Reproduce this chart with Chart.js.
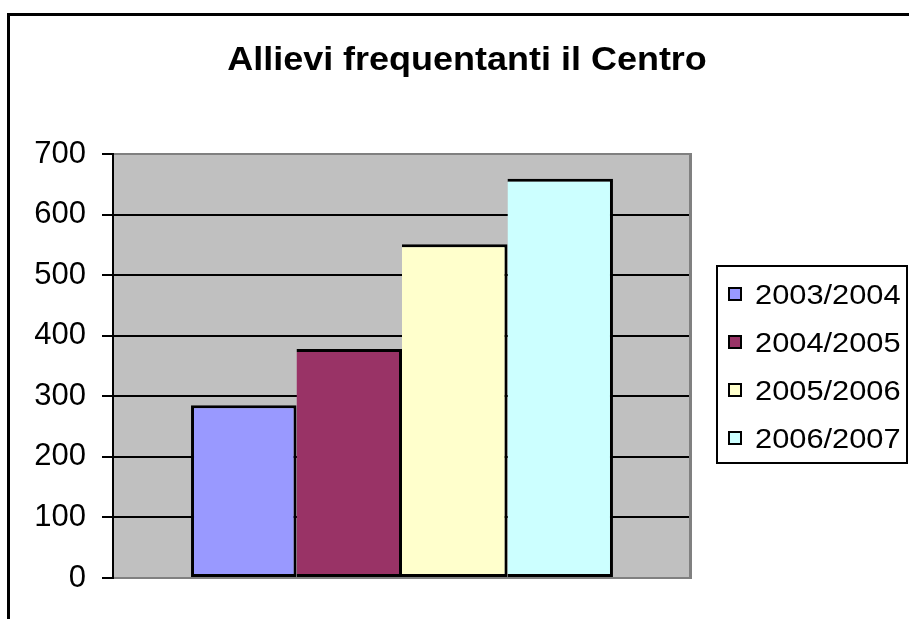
<!DOCTYPE html>
<html><head><meta charset="utf-8">
<script src="https://cdn.jsdelivr.net/npm/chart.js@4.4.1/dist/chart.umd.min.js"></script>
<style>html,body{margin:0;padding:0;background:#fff;overflow:hidden}canvas{display:block}</style>
</head><body>
<canvas id="c" width="909" height="619"></canvas>
<script>
const chartTitle = 'Allievi frequentanti il Centro';
const seasons = ['2003/2004', '2004/2005', '2005/2006', '2006/2007'];
const allievi = [285, 378, 551, 659];
const barColors = ['#9999FF', '#993366', '#FFFFCC', '#CCFFFF'];
const yMin = 0, yMax = 700, yStep = 100;

const FONT = '"Liberation Sans", Arial, sans-serif';

function stretchedText(ctx, text, x, y, font, stretch, align) {
  ctx.save();
  ctx.font = font;
  ctx.fillStyle = '#000';
  ctx.textBaseline = 'alphabetic';
  ctx.textAlign = 'left';
  const w = ctx.measureText(text).width * stretch;
  const left = align === 'center' ? x - w / 2 : x;
  ctx.translate(left, y);
  ctx.scale(stretch, 1);
  ctx.fillText(text, 0, 0);
  ctx.restore();
}

const decor = {
  id: 'decor',
  beforeDraw(chart) {
    const {ctx, chartArea: a} = chart;
    ctx.save();
    ctx.fillStyle = '#fff';
    ctx.fillRect(0, 0, chart.width, chart.height);
    ctx.fillStyle = '#C0C0C0';
    ctx.fillRect(a.left, a.top, a.right - a.left, a.bottom - a.top);
    ctx.restore();
  },
  beforeDatasetsDraw(chart) {
    const {ctx, chartArea: a} = chart;
    ctx.save();
    ctx.fillStyle = '#808080';
    ctx.fillRect(a.right - 2, a.top - 1, 3, a.bottom - a.top + 2);
    ctx.restore();
  },
  afterDraw(chart) {
    const ctx = chart.ctx;
    ctx.save();
    ctx.fillStyle = '#000';
    ctx.fillRect(7, 13, chart.width, 3);
    ctx.fillRect(7, 13, 3, chart.height);
    ctx.restore();
    stretchedText(ctx, chartTitle, 467, 70, 'bold 33px ' + FONT, 1.09, 'center');
    const lx = 716, ly = 265, lw = 192, lh = 199;
    ctx.save();
    ctx.fillStyle = '#fff';
    ctx.fillRect(lx, ly, lw, lh);
    ctx.strokeStyle = '#000';
    ctx.lineWidth = 2;
    ctx.strokeRect(lx + 1, ly + 1, lw - 2, lh - 2);
    seasons.forEach((s, i) => {
      const cy = ly + 29 + i * 48;
      ctx.fillStyle = '#000';
      ctx.fillRect(728, cy - 7, 14, 14);
      ctx.fillStyle = barColors[i];
      ctx.fillRect(730, cy - 5, 10, 10);
      stretchedText(ctx, s, 755, cy + 10, '28px ' + FONT, 1.1, 'left');
    });
    ctx.restore();
  }
};

new Chart(document.getElementById('c'), {
  type: 'bar',
  data: {
    labels: [''],
    datasets: seasons.map((s, i) => ({
      label: s,
      data: [allievi[i]],
      backgroundColor: barColors[i],
      borderColor: '#000',
      borderWidth: 3,
      inflateAmount: 0,
      borderSkipped: i === 0 ? false : 'left',
      categoryPercentage: 0.73,
      barPercentage: 1
    }))
  },
  options: {
    responsive: false,
    animation: false,
    devicePixelRatio: 1,
    layout: {padding: {left: 0, top: 154, right: 218, bottom: 41}},
    plugins: {legend: {display: false}, title: {display: false}, tooltip: {enabled: false}},
    scales: {
      x: {display: false},
      y: {
        min: yMin, max: yMax,
        ticks: {stepSize: yStep, color: '#000', font: {family: FONT, size: 31}, padding: 16},
        grid: {
          color: c => (c.tick && (c.tick.value === yMin || c.tick.value === yMax)) ? '#808080' : '#000',
          lineWidth: 2, tickLength: 11, tickColor: '#000', tickWidth: 2
        },
        border: {color: '#000', width: 2},
        afterFit(s) { s.width = 113; }
      }
    }
  },
  plugins: [decor]
});
</script>
</body></html>
